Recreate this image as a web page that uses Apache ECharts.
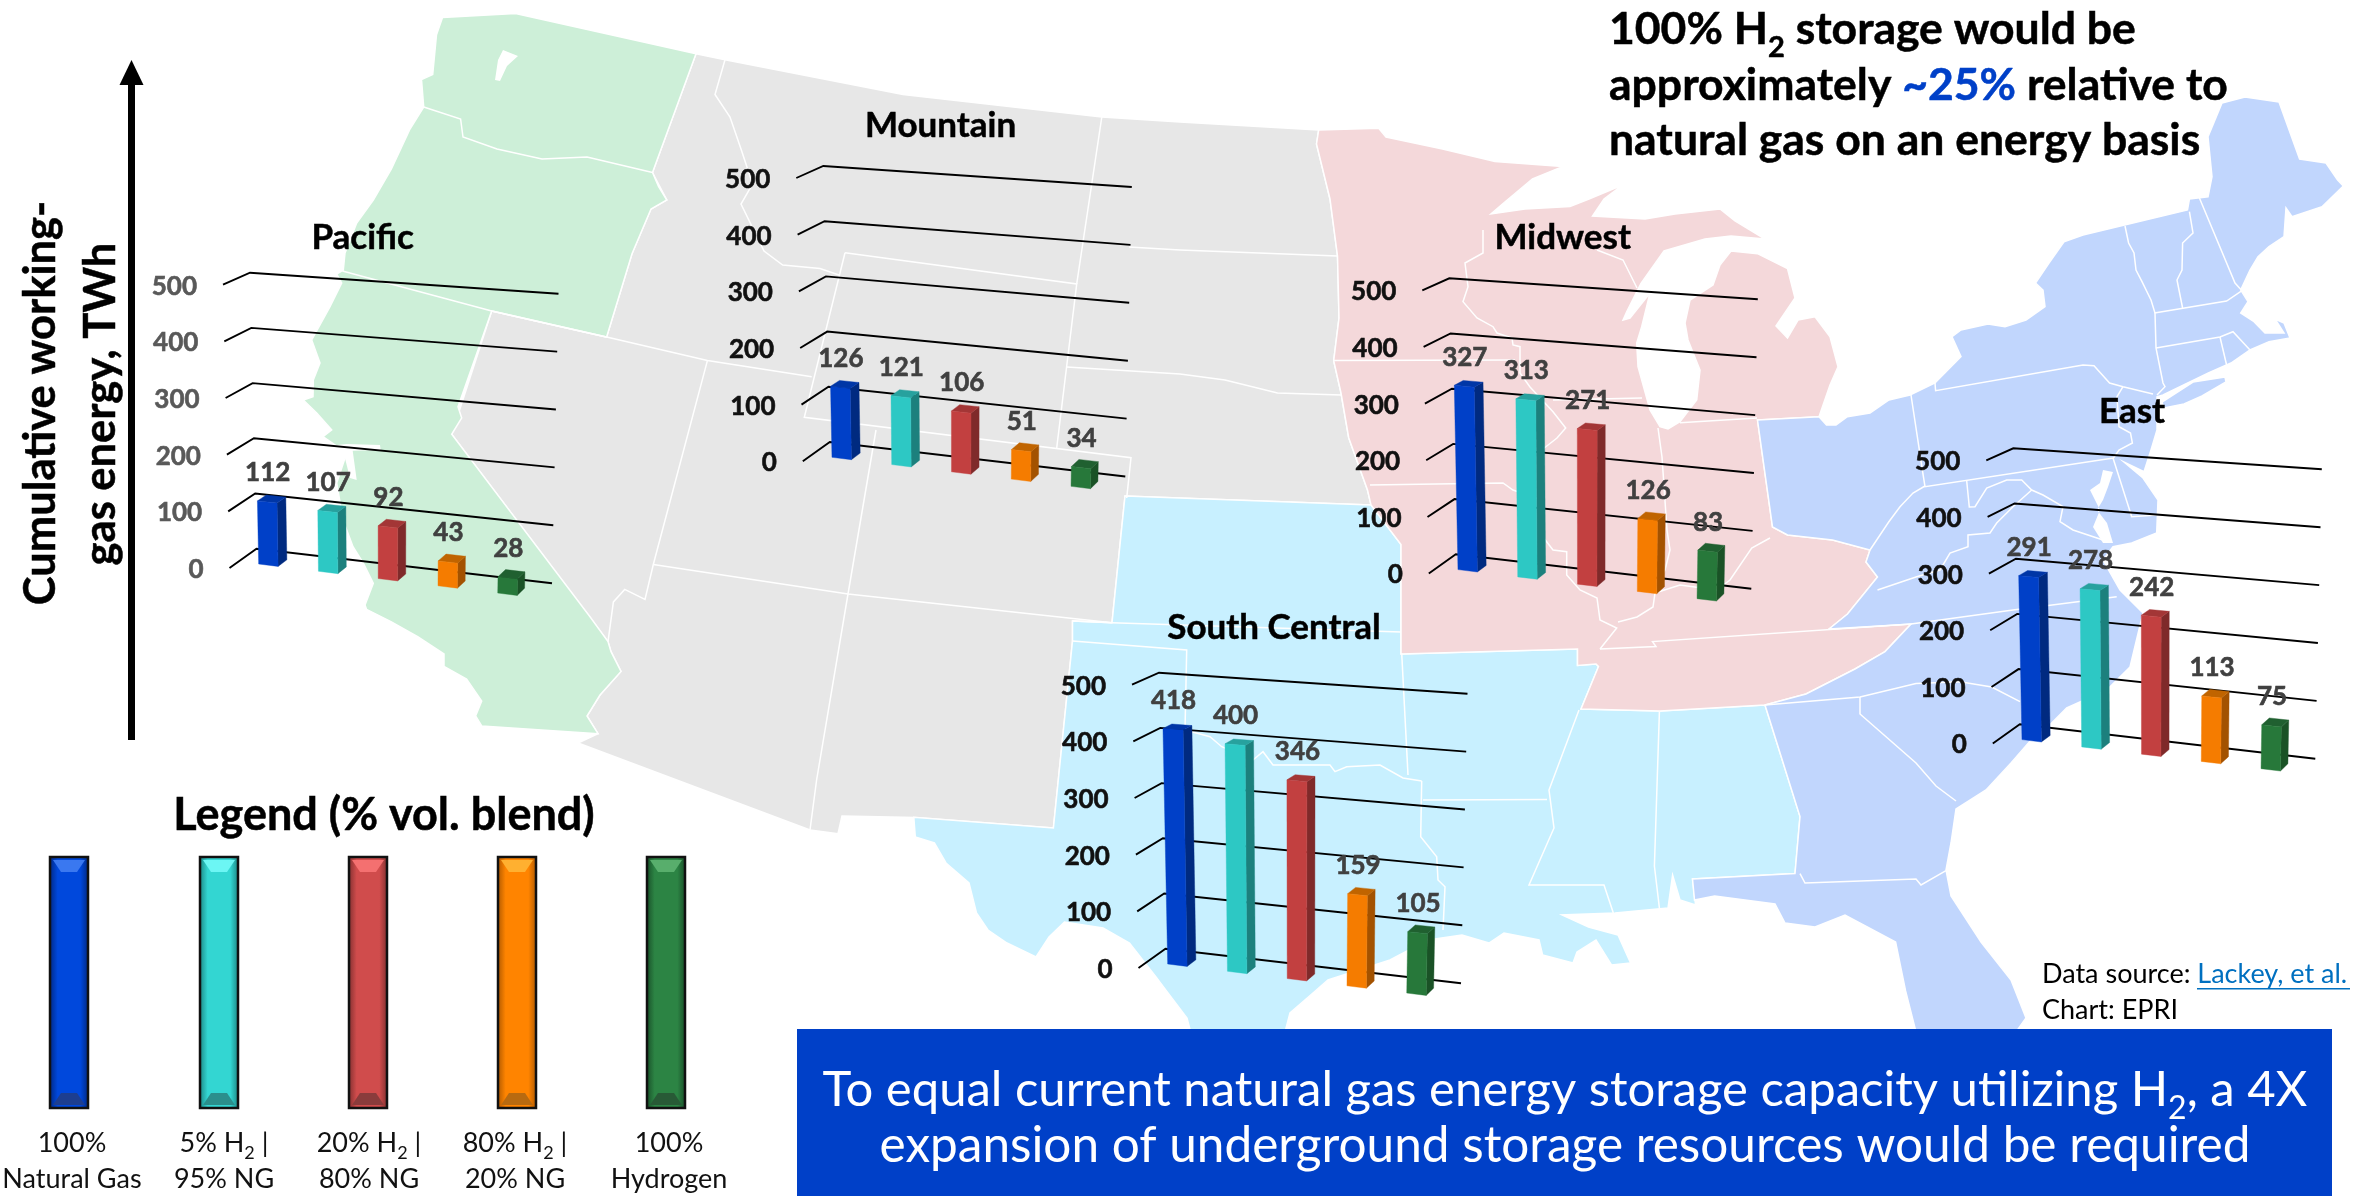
<!DOCTYPE html>
<html>
<head>
<meta charset="utf-8">
<title>Cumulative working-gas energy by region</title>
<script src="https://cdn.jsdelivr.net/npm/echarts@6/dist/echarts.min.js"></script>
<style>html,body{margin:0;padding:0;background:#fff}#chart{width:2356px;height:1196px}</style>
</head>
<body>
<div id="chart"></div>
<script>
// Stored energy (TWh) per region, one value per gas blend
const blendKeys = ['100% Natural Gas', '5% H2 | 95% NG', '20% H2 | 80% NG', '80% H2 | 20% NG', '100% Hydrogen'];
const pacificValues = [112, 107, 92, 43, 28];
const mountainValues = [126, 121, 106, 51, 34];
const midwestValues = [327, 313, 271, 126, 83];
const southCentralValues = [418, 400, 346, 159, 105];
const eastValues = [291, 278, 242, 113, 75];
const tickLabels = [0, 100, 200, 300, 400, 500];

// Where each small chart sits on the page
const panels = [
  { name: 'Pacific', values: pacificValues, ox: 250, oy: 272.7, tick: '#595959', tx: 362.7, ty: 237.7 },
  { name: 'Mountain', values: mountainValues, ox: 823.3, oy: 166, tick: '#111', tx: 940.6, ty: 126 },
  { name: 'Midwest', values: midwestValues, ox: 1449.3, oy: 278.3, tick: '#111', tx: 1562.7, ty: 237.4 },
  { name: 'South Central', values: southCentralValues, ox: 1159, oy: 672.7, tick: '#111', tx: 1274, ty: 628 },
  { name: 'East', values: eastValues, ox: 2013.3, oy: 448.3, tick: '#111', tx: 2132, ty: 412 }
];

// front, side and top shades of each blend's column
const barShades = [
  { front: '#0040C8', side: '#002A80', top: '#0036A6' },
  { front: '#2DC8C4', side: '#1C807D', top: '#27A19E' },
  { front: '#C24040', side: '#7F2A2A', top: '#A33636' },
  { front: '#F57C00', side: '#A35200', top: '#C06400' },
  { front: '#27783A', side: '#1A5226', top: '#206030' }
];

const FONT = 'Lato, "Noto Sans", sans-serif';
const WALL_W = 305, WALL_H = 276;
const BAR_HALF = 0.0325;

// Perspective of a panel: (u, v) on the back wall, d from the wall towards the viewer
function project(ox, oy, u, v, d) {
  const mix = (a, b, t) => a + (b - a) * t;
  const bx = mix(6.5, 302, u), by = mix(276, 310.5, u);
  const tx = mix(0, 308.5, u), ty = mix(0, 21, u);
  const x = mix(bx, tx, v), y = mix(by, ty, v);
  const dx = mix(-27, -22, u);
  const dy = mix(mix(19.3, 12, v), mix(22, 15, v), u);
  return [ox + x + d * dx, oy + y + d * dy];
}

function poly(points, fill) {
  return { type: 'polygon', shape: { points }, style: { fill, stroke: fill, lineWidth: 0.4 } };
}

function renderBar(panel) {
  return function (params, api) {
    const i = api.value(0), val = api.value(1);
    const cs = params.coordSys;
    const top = api.coord([i, val]);
    const u = (top[0] - cs.x) / cs.width;
    const v = (cs.y + cs.height - top[1]) / cs.height;
    const P = (uu, vv, d) => project(panel.ox, panel.oy, uu, vv, d);
    const l = u - BAR_HALF, r = u + BAR_HALF;
    const shade = barShades[i];
    const ft = P(u, v, 2 / 3);
    return {
      type: 'group',
      children: [
        poly([P(r, 0, 2 / 3), P(r, v, 2 / 3), P(r, v, 1 / 3), P(r, 0, 1 / 3)], shade.side),
        poly([P(l, v, 2 / 3), P(r, v, 2 / 3), P(r, v, 1 / 3), P(l, v, 1 / 3)], shade.top),
        poly([P(l, 0, 2 / 3), P(r, 0, 2 / 3), P(r, v, 2 / 3), P(l, v, 2 / 3)], shade.front),
        {
          type: 'text',
          style: {
            x: ft[0] + 0.5, y: ft[1] - 29, text: String(val), fill: '#404040',
            stroke: '#404040', lineWidth: 0.6,
            font: 'bold 26px ' + FONT, align: 'center', verticalAlign: 'middle'
          }
        }
      ]
    };
  };
}

function renderGrid(panel) {
  return function (params, api) {
    const cs = params.coordSys;
    const tick = api.value(1);
    const v = (cs.y + cs.height - api.coord([0, tick])[1]) / cs.height;
    const P = (uu, d) => project(panel.ox, panel.oy, uu, v, d);
    const front = P(0, 1);
    return {
      type: 'group',
      children: [
        {
          type: 'polyline',
          shape: { points: [front, P(0, 0), P(1, 0)] },
          style: { stroke: '#000', lineWidth: 1.9, fill: 'none' }
        },
        {
          type: 'text',
          style: {
            x: front[0] - 26, y: front[1] + 1.5, text: String(tick), fill: panel.tick,
            stroke: panel.tick, lineWidth: 0.6,
            font: 'bold 26px ' + FONT, align: 'right', verticalAlign: 'middle'
          }
        }
      ]
    };
  };
}

const grids = [], xAxes = [], yAxes = [], series = [];
panels.forEach((panel, k) => {
  grids.push({ left: panel.ox, top: panel.oy, width: WALL_W, height: WALL_H });
  xAxes.push({ type: 'category', gridIndex: k, data: blendKeys, show: false });
  yAxes.push({ type: 'value', gridIndex: k, min: 0, max: 500, interval: 100, show: false });
  series.push({
    type: 'custom', name: panel.name + ' grid', xAxisIndex: k, yAxisIndex: k, z: 2, silent: true,
    data: tickLabels.map(t => [0, t]), renderItem: renderGrid(panel)
  });
  series.push({
    type: 'custom', name: panel.name, xAxisIndex: k, yAxisIndex: k, z: 3, silent: true,
    data: panel.values.map((val, i) => [i, val]), renderItem: renderBar(panel)
  });
});

// ---- Background map of the lower 48 states, grouped into regions ----
const MAP_GRAY = '#E7E7E7', MAP_GREEN = '#CDEFD8', MAP_SKY = '#C8F0FF', MAP_PINK = '#F4D8DA', MAP_BLUE = '#C1D6FD';

const mountainOutline = [[696,53.7],[725,59.7],[903,94.5],[1101.8,117],[1180,122],[1318.7,130],[1316.5,144],[1330,199],[1337.5,256],[1339,318],[1333.7,360.6],[1341,393],[1348.7,437.7],[1367.5,490],[1371,505],[1125,496],[1112,622.7],[1072.5,621],[1072.5,641],[1053.4,828],[915.7,817.4],[842,816],[838,833.7],[810,830],[578,743],[598,733.7],[587,716],[600,695],[621,671.5],[611,651.6],[608,641.6],[451.7,434.3],[491.7,311],[606.6,337],[632,253.7],[651,209],[666.8,200],[652.5,172.6]];

const pacificOutline = [[442.5,17.4],[515.5,13.4],[696,53.7],[652.5,172.6],[658.5,186.5],[666.8,200],[651,209],[632,253.7],[606.6,337],[491.7,311],[478,350],[458,406.7],[461.7,418],[451.7,434.3],[590,616.7],[608,641.6],[611,651.6],[621,671.5],[600,695],[587,716],[598,733.7],[481.7,726],[475.6,716],[481.7,701],[466.6,679],[444,666.5],[444,654],[417.7,636.7],[391.4,621.8],[366.5,609.3],[365,605],[373.3,583.3],[363.3,563],[353,546.7],[343,520],[336.7,483],[346.7,453],[323,436.7],[331.7,430],[316.7,413],[303.3,400],[313,396.7],[313.3,380],[320,363],[311.7,340],[330,306.7],[341.7,283],[336.7,274],[343.3,270],[345,253],[356.7,223],[373.3,200],[391.4,169],[410,129],[423.7,107],[421.5,79.6],[432.7,74.6],[436.5,34.8]];

const southCentralOutline = [[1125,496],[1371,505],[1401,544.6],[1401,654],[1577.5,649],[1577.5,665.5],[1596,664],[1598.5,666.5],[1581,709],[1660,711],[1765,705],[1800,816.6],[1795,873.6],[1692.5,879],[1695.6,905],[1680,900],[1672.6,875],[1668,908],[1615,913],[1562,915],[1588.5,927],[1618,935],[1630.6,963],[1611.5,965],[1596,940],[1577,952],[1573,963],[1542.6,955],[1539,940],[1504,933],[1489,943],[1462,935],[1428,940],[1390,960],[1328,980],[1313,993],[1290,1013],[1285,1032],[1190.7,1032],[1187,1018],[1168,993],[1156,977],[1129.5,943],[1103,928],[1064.5,922],[1049,937],[1036,957],[1007,943],[988,930],[976.5,913],[969,883],[946,863],[934.4,843],[915.3,837],[913.8,817.3],[1053.4,828],[1072.5,641],[1072.5,621],[1112,622.7]];

const midwestOutline = [[1318.7,130],[1378.7,128.3],[1386,137],[1442.5,149],[1495,161.6],[1562.5,166.6],[1532.5,179],[1502.5,204],[1491,214],[1525,209],[1570,206.4],[1589,199],[1622.5,185],[1604,199],[1592.5,216],[1645,219],[1675,214],[1720,209],[1735,221],[1765,239],[1731,236],[1705,239],[1664,251],[1641,283.5],[1626.7,311.7],[1623,320],[1630,318],[1650,293],[1641.7,326.7],[1636.7,343],[1638,366.7],[1650,410],[1660,426.7],[1668,429],[1680,421.7],[1696.7,400],[1700,370],[1688,340],[1685,323],[1690,300],[1713,285],[1720,265],[1731,251],[1757.5,253.7],[1787.5,268.6],[1795,298],[1776,326],[1787.5,338],[1798,320],[1815,316.7],[1830,336.7],[1838,366.7],[1830,385],[1819,416.7],[1757.5,420],[1772.5,527],[1787.5,535],[1832.5,540],[1870,550],[1866,562],[1877.5,577],[1847.5,614],[1829,629],[1911,624],[1885,651.6],[1855,669],[1806,694],[1765,705],[1660,711],[1581,709],[1598.5,666.5],[1596,664],[1577.5,665.5],[1577.5,649],[1401,654],[1401,544.6],[1371,505],[1367.5,490],[1348.7,437.7],[1341,393],[1333.7,360.6],[1339,318],[1337.5,256],[1330,199],[1316.5,144]];

const eastOutline = [[1757.5,420],[1819,416.7],[1826.5,425],[1836,425],[1847.4,416.7],[1870,413],[1889,400],[1910,395],[1935,383],[1961,356.7],[1952,336.7],[1961,330],[1988,324],[2005,326.7],[2026,320],[2045,306.7],[2043,290],[2035.5,283],[2049,263],[2064,241.7],[2083,235],[2187.5,210],[2189.4,199],[2208,196.7],[2212,176.7],[2208,136.7],[2222,103],[2245,97],[2279,102],[2299.6,159],[2326,163],[2337.6,180],[2343.3,186],[2322,206.7],[2307,211.7],[2292,216.7],[2286,208],[2284,236.7],[2269,246.7],[2258,256.7],[2250,270],[2240.7,290],[2248,301.7],[2240.7,313],[2254,321.7],[2265,333],[2284,333],[2275,319],[2284,323],[2290,338],[2269,341.7],[2250,350],[2231,363],[2208.4,373],[2163,395],[2157,396.7],[2157,430],[2151,450],[2144,471.7],[2124,462],[2143,478],[2158,500],[2156.7,533],[2131.7,543],[2113,546.7],[2103,560],[2120,590],[2143,613],[2130,667],[2106.7,690],[2066.7,708],[2046.7,728],[2031,740],[2011,763],[1986,790],[1956,809],[1951,843],[1946,870],[1951,896],[1981,942],[2011,980],[2026,1018],[2016,1032],[1916,1032],[1905.6,991],[1895.6,942],[1845,915],[1815,927],[1785,923],[1775,904],[1714.6,896],[1694.5,900],[1692.5,879],[1795,873.6],[1800,816.6],[1765,705],[1806,694],[1855,669],[1885,651.6],[1911,624],[1829,629],[1847.5,614],[1877.5,577],[1866,562],[1870,550],[1832.5,540],[1787.5,535],[1772.5,527]];

const longIsland = [[2162,402],[2193,382],[2225,377],[2226,382],[2202,396],[2184,404],[2164,408]];

// Water cut out of the land shapes
const waterAreas = [
  [[328,446],[346.7,444],[380,445],[380.7,450],[352.7,450.7],[356.7,480],[350,478],[343.3,451.7]],
  [[495,80],[498,60],[503,50],[518,56],[507,66],[500,81]],
  [[2103,470],[2113,472],[2108,487],[2103,500],[2097,510],[2107,523],[2113,543],[2103,543],[2093,527],[2100,510],[2090,490],[2100,483]]
];

const stateLines = [
  [[423.7,107],[460.6,119],[463,137],[497,149],[542,159],[587,157],[652.5,172.6]],
  [[342.4,271],[491.7,311],[606.6,337],[707.4,360.6],[811.7,376.7]],
  [[725,59.7],[715,94.5],[730,117],[741,149],[752.6,184],[741,204],[764,251],[782.7,265],[820,268.6],[839,275]],
  [[845,252.7],[804.3,417.3],[1131,457.7],[1126.7,498]],
  [[845,252.7],[1076.7,284],[1056.7,448]],
  [[1101.8,117],[1076.7,284]],
  [[1066.7,367],[1180,374],[1225,380],[1277.5,393],[1341,395]],
  [[1129,247],[1180,250],[1337.5,256]],
  [[707.4,360.6],[653.3,564.5],[645,599.4],[624.7,589.4],[613.4,601.9],[608,641.6]],
  [[653.3,564.5],[848,594],[1112,622.7]],
  [[876,430],[848,594],[816.6,780],[810,830]],
  [[1072.5,621],[1111.6,622.8],[1401,632]],
  [[1072.5,641],[1186.7,650],[1185,730],[1210,736.7],[1221.7,746.7],[1253,760],[1263,751.7],[1273,765],[1306.7,765],[1330,765],[1335,771.7],[1346.7,766.7],[1380,765],[1403,778],[1421.7,781]],
  [[1401.7,653],[1408,775]],
  [[1421.7,781],[1420.7,836.7],[1436.7,856.7],[1438,880],[1445,886.7],[1443,930]],
  [[1423,800],[1547,799.5]],
  [[1579,710],[1549,790],[1554,828],[1529,885],[1604,885],[1614,915]],
  [[1659.4,712],[1654.4,866],[1659.4,908]],
  [[1483,230],[1483,253],[1465,263],[1468,286.7],[1463,301.7],[1477,318],[1493,326.7],[1497,333],[1512,338],[1513,345],[1520,346.7],[1520,373],[1530,387],[1553,411.7],[1565.7,428],[1557,438],[1541.7,450],[1543,537],[1553,550],[1566.7,551.7],[1566.7,575],[1580,590],[1597,598],[1600,620],[1616.7,628],[1600,649]],
  [[1333.7,360.6],[1515,360]],
  [[1370,485],[1503,483],[1513,490],[1541.7,500]],
  [[1597,250],[1623,260],[1633,280],[1637,288]],
  [[1553,400],[1642,398]],
  [[1658,428],[1662,457],[1667,530],[1670,550],[1665,570],[1655,593],[1653,607],[1637,617],[1618,622]],
  [[1680,422.7],[1757,418]],
  [[1655,593],[1680,585],[1716.7,590],[1730,580],[1751.7,548],[1770,538]],
  [[1600,649],[1656,646.6],[1652.5,641.6],[1911,624]],
  [[1935,383],[1935.6,390.7],[2083,365],[2094,365.7],[2109.6,383],[2123,386.7],[2153,394]],
  [[1911,395],[1923.4,476.7],[1925,486.7],[2113.4,458]],
  [[2123,386.7],[2117,396.7],[2119,426.7],[2130.5,433],[2132.4,443],[2119,450],[2113.4,458]],
  [[2125,226],[2128.6,243],[2134,253],[2136,270],[2142,281.7],[2151,300],[2155,313],[2156,348],[2163,383],[2165,386.7],[2157,395]],
  [[2189.4,211.7],[2193,233],[2182.6,243],[2182,270],[2177,280],[2182.6,308]],
  [[2199,197],[2235,283],[2242,290.7]],
  [[2154.4,313],[2226.6,301],[2242,290.7]],
  [[2156,348],[2220,337],[2233,331.7],[2250,350]],
  [[2220,337],[2226.6,365]],
  [[1925,486],[1913,493],[1900,506.7],[1888.7,522],[1870,550]],
  [[1966.7,481],[1969.3,507],[1975,506.7],[1986.7,488],[2006.7,480],[2021.7,480],[2031.7,490],[2043,495],[2063,506.7],[2060,521.7],[2073,530],[2103,540]],
  [[2031.7,490],[2013,506.7],[1996.7,523],[1990,533],[1968,535],[1968,546.7],[1950,553],[1940,570],[1916.7,576.7],[1877.5,590]],
  [[2113,458],[2131.7,516.7],[2156.7,515]],
  [[1911,624],[2013,610],[2116.7,596.7]],
  [[1765,705],[1860,697],[1916,683.6],[1960,681.7],[1991.7,687],[2020,701.7]],
  [[1860,697],[1860,714],[1916,763],[1936,786],[1956,801]],
  [[1800,873.6],[1805,883],[1916,879],[1921,885],[1946,870.6]]
];

const landShapes = [
  { fill: MAP_GRAY, points: mountainOutline },
  { fill: MAP_GREEN, points: pacificOutline },
  { fill: MAP_SKY, points: southCentralOutline },
  { fill: MAP_PINK, points: midwestOutline },
  { fill: MAP_BLUE, points: eastOutline },
  { fill: MAP_BLUE, points: longIsland }
];

const graphics = [];
landShapes.forEach(s => graphics.push({
  type: 'polygon', z: 0, silent: true, shape: { points: s.points },
  style: { fill: s.fill, stroke: '#fff', lineWidth: 1.5 }
}));
waterAreas.forEach(w => graphics.push({
  type: 'polygon', z: 0, silent: true, shape: { points: w }, style: { fill: '#fff' }
}));
stateLines.forEach(l => graphics.push({
  type: 'polyline', z: 0, silent: true, shape: { points: l },
  style: { stroke: '#fff', lineWidth: 1.5, fill: 'none' }
}));

// Text on the page; {s|2} marks a subscript, {c|..} a coloured run.
// The subscript's top padding makes the line taller, so it sits below the baseline of its neighbours.
function text(x, y, str, size, opts) {
  const o = Object.assign({ weight: '', fill: '#000', align: 'center', family: FONT, heavy: 0, rotation: 0, accent: '#0040C8' }, opts);
  const font = (w, s) => (w ? w + ' ' : '') + s + 'px ' + o.family;
  const base = { font: font(o.weight, size), fill: o.fill };
  if (o.heavy) { base.stroke = o.fill; base.lineWidth = o.heavy; }
  return {
    type: 'text', z: 10, silent: true, x, y, rotation: o.rotation,
    style: Object.assign({
      text: str, align: o.align, verticalAlign: 'middle',
      rich: {
        s: Object.assign({}, base, {
          font: font(o.weight, Math.round(size * 0.66)), verticalAlign: 'bottom',
          padding: [Math.round(size * 0.78), 0, 0, 0]
        }),
        c: Object.assign({}, base, { fill: o.accent, stroke: o.heavy ? o.accent : undefined })
      }
    }, base)
  };
}

// Panel titles
panels.forEach(p => graphics.push(text(p.tx, p.ty, p.name, 35, { weight: 'bold', heavy: 0.5 })));

// Vertical axis arrow and its caption
graphics.push({ type: 'rect', z: 10, silent: true, shape: { x: 128, y: 80, width: 7, height: 660 }, style: { fill: '#000' } });
graphics.push({ type: 'polygon', z: 10, silent: true, shape: { points: [[131.5, 60], [143.5, 85], [119.5, 85]] }, style: { fill: '#000' } });
graphics.push(text(41, 403, 'Cumulative working-', 43.5, { weight: 'bold', heavy: 0.5, rotation: Math.PI / 2 }));
graphics.push(text(101, 404, 'gas energy, TWh', 43.5, { weight: 'bold', heavy: 0.5, rotation: Math.PI / 2 }));

// Callout, top right
const calloutOpts = { weight: 'bold', heavy: 0.5, align: 'left' };
graphics.push(text(1609, 30, '100% H{s|2} storage would be', 44.5, calloutOpts));
graphics.push(text(1609, 86, 'approximately {c|~25%} relative to', 44.5, calloutOpts));
graphics.push(text(1609, 141, 'natural gas on an energy basis', 44.5, calloutOpts));

// Sources
graphics.push(text(2042, 974, 'Data source: {c|Lackey, et al.}', 27, { align: 'left', accent: '#0070C0' }));
graphics.push({ type: 'rect', z: 10, silent: true, shape: { x: 2197, y: 988, width: 153, height: 1.6 }, style: { fill: '#0070C0' } });
graphics.push(text(2042, 1010, 'Chart: EPRI', 27, { align: 'left' }));

// Conclusion banner
graphics.push({ type: 'rect', z: 9, silent: true, shape: { x: 797, y: 1029, width: 1535, height: 167 }, style: { fill: '#0040C8' } });
graphics.push(text(1565, 1090, 'To equal current natural gas energy storage capacity utilizing H{s|2}, a 4X', 49, { fill: '#fff' }));
graphics.push(text(1565, 1146, 'expansion of underground storage resources would be required', 49.5, { fill: '#fff' }));

// Legend: bevelled swatches with two-line captions
const legendCaptions = [['100%', 'Natural Gas'], ['5% H{s|2} |', '95% NG'], ['20% H{s|2} |', '80% NG'], ['80% H{s|2} |', '20% NG'], ['100%', 'Hydrogen']];
const legendShades = [
  { mid: '#0048DC', edge: '#00257A', hi: '#3A78F0', lo: '#1D3E90' },
  { mid: '#33D6D2', edge: '#1B7F7C', hi: '#6CF6F4', lo: '#2B8F8C' },
  { mid: '#D04C4C', edge: '#7A2D2D', hi: '#F47070', lo: '#8A3C3C' },
  { mid: '#FF8400', edge: '#A85500', hi: '#FFB030', lo: '#B86A10' },
  { mid: '#2C8444', edge: '#174A26', hi: '#58AE6C', lo: '#285A36' }
];
const legendX = [50, 200, 349, 498, 647];
const captionX = [72, 224, 369, 515, 669];
const SW = 38, ST = 857, SH = 251;
graphics.push(text(384, 815, 'Legend (% vol. blend)', 45, { weight: 'bold', heavy: 0.5 }));
legendCaptions.forEach((cap, i) => {
  const x = legendX[i], sh = legendShades[i];
  graphics.push({
    type: 'rect', z: 10, silent: true, shape: { x, y: ST, width: SW, height: SH },
    style: {
      stroke: '#111', lineWidth: 2.5,
      fill: {
        type: 'linear', x: 0, y: 0, x2: 1, y2: 0,
        colorStops: [{ offset: 0, color: sh.edge }, { offset: 0.22, color: sh.mid }, { offset: 0.78, color: sh.mid }, { offset: 1, color: sh.edge }]
      }
    }
  });
  graphics.push({ type: 'polygon', z: 11, silent: true, shape: { points: [[x + 3, ST + 3], [x + SW - 3, ST + 3], [x + SW - 11, ST + 15], [x + 11, ST + 15]] }, style: { fill: sh.hi } });
  graphics.push({ type: 'polygon', z: 11, silent: true, shape: { points: [[x + 3, ST + SH - 3], [x + SW - 3, ST + SH - 3], [x + SW - 11, ST + SH - 15], [x + 11, ST + SH - 15]] }, style: { fill: sh.lo } });
  graphics.push(text(captionX[i], 1143, cap[0], 27, { fill: '#111' }));
  graphics.push(text(captionX[i], 1179, cap[1], 27, { fill: '#111' }));
});

const chart = echarts.init(document.getElementById('chart'), null, { renderer: 'canvas' });
chart.setOption({
  backgroundColor: '#fff',
  animation: false,
  grid: grids,
  xAxis: xAxes,
  yAxis: yAxes,
  series,
  graphic: { elements: graphics }
});
</script>
</body>
</html>
